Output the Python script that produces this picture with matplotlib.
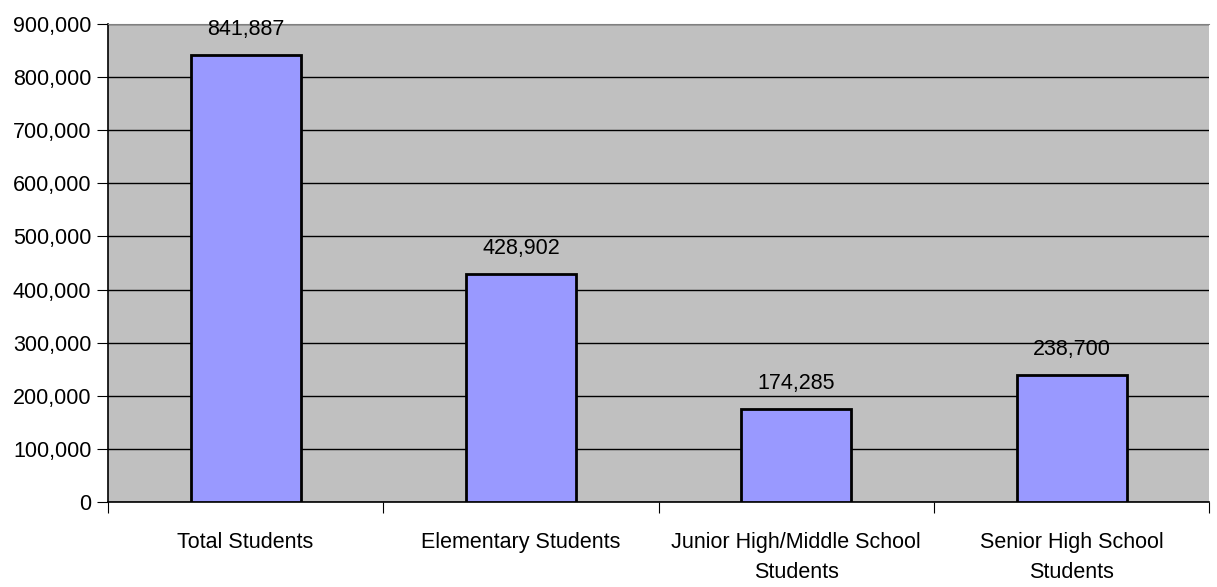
import matplotlib.pyplot as plt
from matplotlib.ticker import FuncFormatter

categories = ["Total Students", "Elementary Students",
              "Junior High/Middle School\nStudents", "Senior High School\nStudents"]
values = [841887, 428902, 174285, 238700]

plt.rcParams['font.family'] = ['Liberation Sans Narrow', 'Liberation Sans', 'DejaVu Sans']

fig = plt.figure(figsize=(12.17, 5.87), dpi=100)
ax = fig.add_axes([0.0887, 0.145, 0.905, 0.814])
ax.set_facecolor('#C0C0C0')

x = list(range(len(values)))
bars = ax.bar(x, values, width=0.4, color='#9999FF', edgecolor='black', linewidth=2, zorder=3)
for b, v in zip(bars, values):
    ax.text(b.get_x() + b.get_width() / 2, v + 28000, f"{v:,}", ha='center', va='bottom', fontsize=15.5, zorder=4)

ax.set_ylim(0, 900000)
ax.set_xlim(-0.5, len(values) - 0.5)
ax.set_yticks(range(0, 900001, 100000))
ax.yaxis.set_major_formatter(FuncFormatter(lambda v, p: f"{int(v):,}"))
ax.grid(axis='y', color='black', linewidth=1, zorder=1)

# category labels between boundary ticks
ax.set_xticks([i - 0.5 for i in range(len(values) + 1)])
ax.set_xticklabels([])
ax.set_xticks(x, minor=True)
ax.set_xticklabels(categories, minor=True, fontsize=15.5, linespacing=1.55)
ax.tick_params(axis='x', which='minor', length=0, pad=22)
ax.tick_params(axis='x', which='major', length=8, direction='out')
ax.tick_params(axis='y', length=8, direction='out', labelsize=15.5, pad=4)

ax.spines['top'].set_color('#808080')
ax.spines['right'].set_visible(False)
ax.spines['left'].set_linewidth(1.2)
ax.spines['bottom'].set_linewidth(1.2)

fig.savefig('out.png', dpi=100)
